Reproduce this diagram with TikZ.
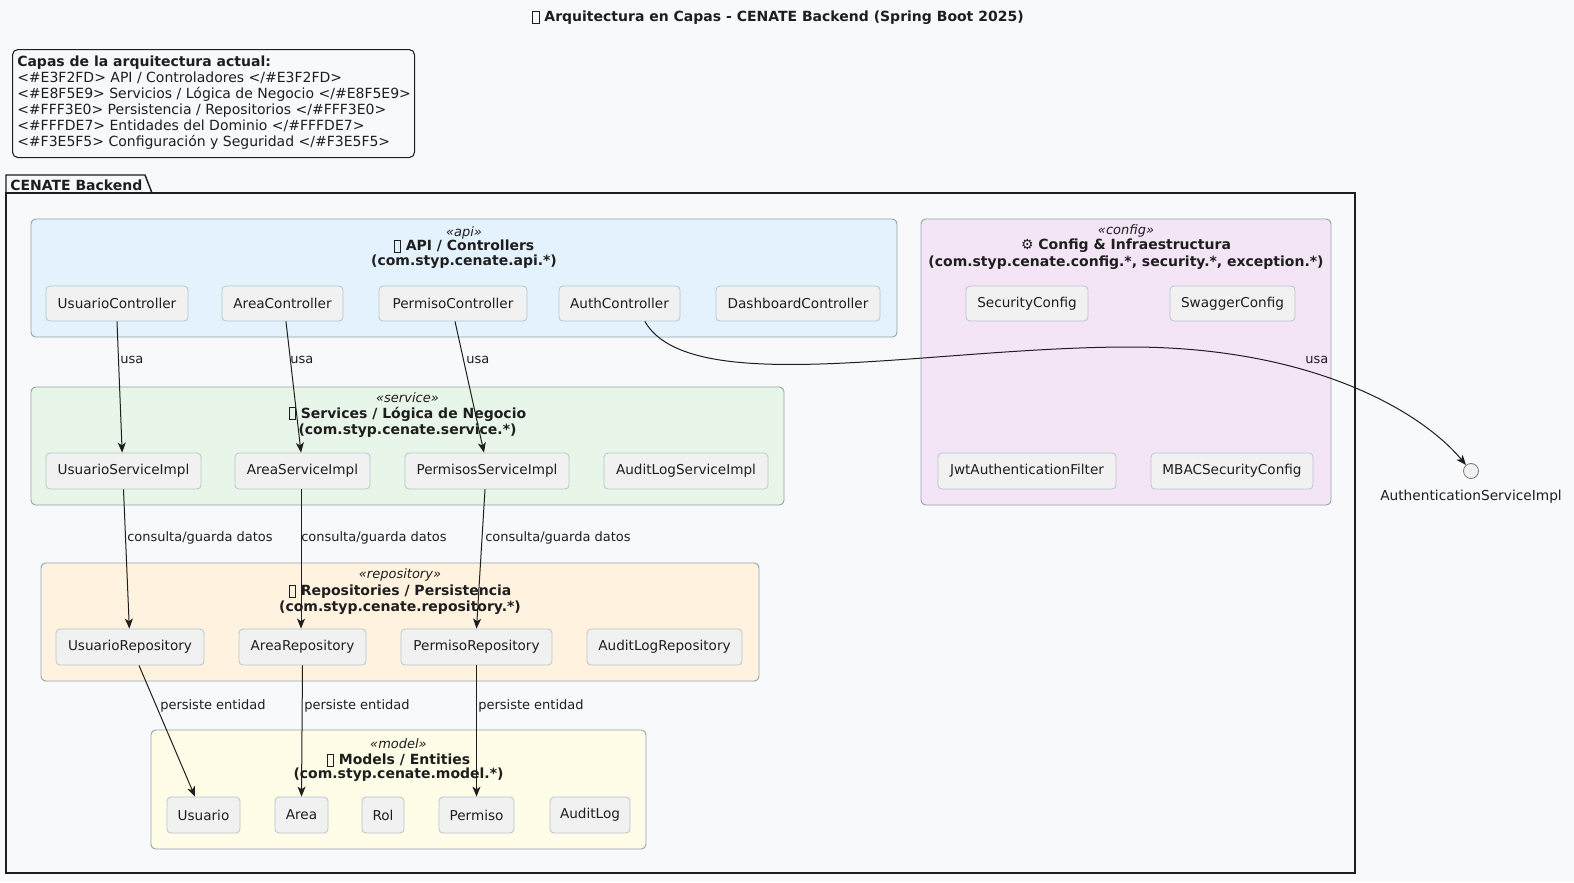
\documentclass[tikz,border=0pt]{standalone}
\usepackage{fontspec}
\setmainfont{DejaVu Sans}
\usetikzlibrary{arrows.meta}
\definecolor{bg}{HTML}{F8F9FA}
\definecolor{apifill}{HTML}{E3F2FD}
\definecolor{svcfill}{HTML}{E8F5E9}
\definecolor{repofill}{HTML}{FFF3E0}
\definecolor{modelfill}{HTML}{FFFDE7}
\definecolor{cfgfill}{HTML}{F3E5F5}
\definecolor{layerborder}{HTML}{90A4AE}
\definecolor{compfill}{HTML}{F1F1F1}
\definecolor{compborder}{HTML}{B8C5CC}
\definecolor{circborder}{HTML}{777777}
\definecolor{ink}{HTML}{1E1E1E}
\newcommand\tofu{\raisebox{-0.15ex}{\setlength{\fboxrule}{0.5pt}\setlength{\fboxsep}{0pt}\fbox{\rule{0pt}{1.45ex}\hspace{0.42em}}}}
\newcommand\mylayer[6]{\node[layer, fill=#6, minimum width={(#4-#2)*0.75pt}, minimum height={(#5-#3)*0.75pt}] (#1) at ({(#2+#4)/2},{(#3+#5)/2}) {};}
\newcommand\mycomp[6]{\node[comp, minimum width={(#4-#2)*0.75pt}, minimum height={(#5-#3)*0.75pt}] (#1) at ({(#2+#4)/2},{(#3+#5)/2}) {#6};}
\tikzset{
  layer/.style={draw=layerborder, line width=0.7pt, rounded corners=3.5pt, inner sep=0pt},
  comp/.style={draw=compborder, fill=compfill, line width=0.6pt, rounded corners=3pt, inner sep=0pt, text=ink, font=\fontsize{10.2}{12}\selectfont},
  stereo/.style={inner sep=0pt, text=ink, font=\itshape\fontsize{9.75}{11}\selectfont},
  ltitle/.style={inner sep=0pt, text=ink, font=\bfseries\fontsize{10.5}{12}\selectfont},
  elabel/.style={inner sep=0pt, anchor=west, text=ink, font=\fontsize{9.75}{11}\selectfont},
  arr/.style={draw=ink, line width=0.75pt, -{Stealth[length=7.5pt,width=6pt,inset=2pt]}},
}
\begin{document}
\begin{tikzpicture}[x=0.75pt,y=-0.75pt]
\useasboundingbox[fill=bg] (0,0) rectangle (1574,882);
% title
\node[ltitle] (title) at (778,18) {\tofu\ Arquitectura en Capas - CENATE Backend (Spring Boot 2025)};
% legend
\node[draw=ink, line width=0.8pt, rounded corners=4pt, minimum width=301.5pt, minimum height=81pt, anchor=north west, inner sep=0pt] (legend) at (12,49) {};
\node[anchor=north west, align=left, inner sep=0pt, text=ink, font=\fontsize{10.5}{12}\selectfont] (legendtext) at (17,56) {\textbf{Capas de la arquitectura actual:}\\
<\#E3F2FD> API / Controladores </\#E3F2FD>\\
<\#E8F5E9> Servicios / Lógica de Negocio </\#E8F5E9>\\
<\#FFF3E0> Persistencia / Repositorios </\#FFF3E0>\\
<\#FFFDE7> Entidades del Dominio </\#FFFDE7>\\
<\#F3E5F5> Configuración y Seguridad </\#F3E5F5>};
% package
\draw[ink, line width=1.1pt] (6,193) -- (6,175) -- (145,175) -- (152,193);
\draw[ink, line width=1.1pt] (6,193) rectangle (1355,873);
\node[anchor=west, inner sep=0pt, text=ink, font=\bfseries\fontsize{10.5}{12}\selectfont] (pkg) at (10,185) {CENATE Backend};
% layers
\mylayer{api}{31}{219}{897}{337}{apifill}
\mylayer{svc}{31}{387}{784}{505}{svcfill}
\mylayer{repo}{41}{563}{759}{681}{repofill}
\mylayer{model}{151}{730}{646}{849}{modelfill}
\mylayer{cfg}{921}{219}{1331}{505}{cfgfill}
% layer titles
\node[stereo] (apist) at (464,233) {«api»};
\node[ltitle] (apit1) at (464,246) {\tofu\ API / Controllers};
\node[ltitle] (apit2) at (464,262) {(com.styp.cenate.api.*)};
\node[stereo] (svcst) at (407.5,398) {«service»};
\node[ltitle] (svct1) at (407.5,414) {\tofu\ Services / Lógica de Negocio};
\node[ltitle] (svct2) at (407.5,431) {(com.styp.cenate.service.*)};
\node[stereo] (repost) at (400,575) {«repository»};
\node[ltitle] (repot1) at (400,592) {\tofu\ Repositories / Persistencia};
\node[ltitle] (repot2) at (400,608) {(com.styp.cenate.repository.*)};
\node[stereo] (modelst) at (398.5,744) {«model»};
\node[ltitle] (modelt1) at (398.5,760) {\tofu\ Models / Entities};
\node[ltitle] (modelt2) at (398.5,775) {(com.styp.cenate.model.*)};
\node[stereo] (cfgst) at (1126,231) {«config»};
\node[ltitle] (cfgt1) at (1126,246) {⚙ Config \& Infraestructura};
\node[ltitle] (cfgt2) at (1126,263) {(com.styp.cenate.config.*, security.*, exception.*)};
% components
\mycomp{usuc}{46}{286}{188}{321}{UsuarioController}
\mycomp{areac}{222}{286}{343}{321}{AreaController}
\mycomp{permc}{379}{286}{527}{321}{PermisoController}
\mycomp{authc}{559}{286}{680}{321}{AuthController}
\mycomp{dashc}{716}{286}{880}{321}{DashboardController}
\mycomp{ussvc}{46}{453}{201}{489}{UsuarioServiceImpl}
\mycomp{areasvc}{235}{453}{370}{489}{AreaServiceImpl}
\mycomp{permsvc}{405}{453}{569}{489}{PermisosServiceImpl}
\mycomp{auditsvc}{604}{453}{768}{489}{AuditLogServiceImpl}
\mycomp{usrepo}{56}{629}{204}{665}{UsuarioRepository}
\mycomp{arearepo}{239}{629}{366}{665}{AreaRepository}
\mycomp{permrepo}{401}{629}{552}{665}{PermisoRepository}
\mycomp{auditrepo}{587}{629}{742}{665}{AuditLogRepository}
\mycomp{usuario}{167}{797}{240}{833}{Usuario}
\mycomp{area}{275}{797}{328}{833}{Area}
\mycomp{rol}{362}{797}{404}{833}{Rol}
\mycomp{permiso}{439}{797}{514}{833}{Permiso}
\mycomp{auditlog}{550}{797}{630}{833}{AuditLog}
\mycomp{seccfg}{966}{286}{1088}{321}{SecurityConfig}
\mycomp{swagcfg}{1170}{286}{1295}{321}{SwaggerConfig}
\mycomp{jwtf}{938}{453}{1116}{489}{JwtAuthenticationFilter}
\mycomp{mbac}{1151}{453}{1313}{489}{MBACSecurityConfig}
% interface
\node[circle, draw=circborder, fill=compfill, line width=0.6pt, minimum size=11.25pt, inner sep=0pt] (authsvc) at (1471,471) {};
\node[inner sep=0pt, text=ink, font=\fontsize{10.3}{12}\selectfont] (authsvcl) at (1471,497) {AuthenticationServiceImpl};
% connectors
\draw[arr] (usuc.south) -- ([xshift=-1pt]ussvc.north);
\draw[arr] ([xshift=2.6pt]areac.south) -- ([xshift=-1.1pt]areasvc.north);
\draw[arr] ([xshift=1.5pt]permc.south) -- ([xshift=-2.25pt]permsvc.north);
\draw[arr] ([xshift=19pt]authc.south) .. controls (690,400) and (930,347) .. (1130,347) .. controls (1310,347) and (1420,410) .. (authsvc);
\draw[arr] (ussvc.south) -- ([xshift=-0.5pt]usrepo.north);
\draw[arr] ([xshift=-1.1pt]areasvc.south) -- ([xshift=-1.1pt]arearepo.north);
\draw[arr] ([xshift=-1.5pt]permsvc.south) -- (permrepo.north);
\draw[arr] ([xshift=6.75pt]usrepo.south) -- ([xshift=-6.4pt]usuario.north);
\draw[arr] (arearepo.south) -- (area.north);
\draw[arr] (permrepo.south) -- (permiso.north);
% labels
\node[elabel] (l1) at (120,360) {usa};
\node[elabel] (l2) at (290,360) {usa};
\node[elabel] (l3) at (466,360) {usa};
\node[elabel] (l4) at (1305,360) {usa};
\node[elabel] (l5) at (127,538) {consulta/guarda datos};
\node[elabel] (l6) at (301,538) {consulta/guarda datos};
\node[elabel] (l7) at (485,538) {consulta/guarda datos};
\node[elabel] (l8) at (160,706) {persiste entidad};
\node[elabel] (l9) at (304,706) {persiste entidad};
\node[elabel] (l10) at (478,706) {persiste entidad};
\end{tikzpicture}
\end{document}
